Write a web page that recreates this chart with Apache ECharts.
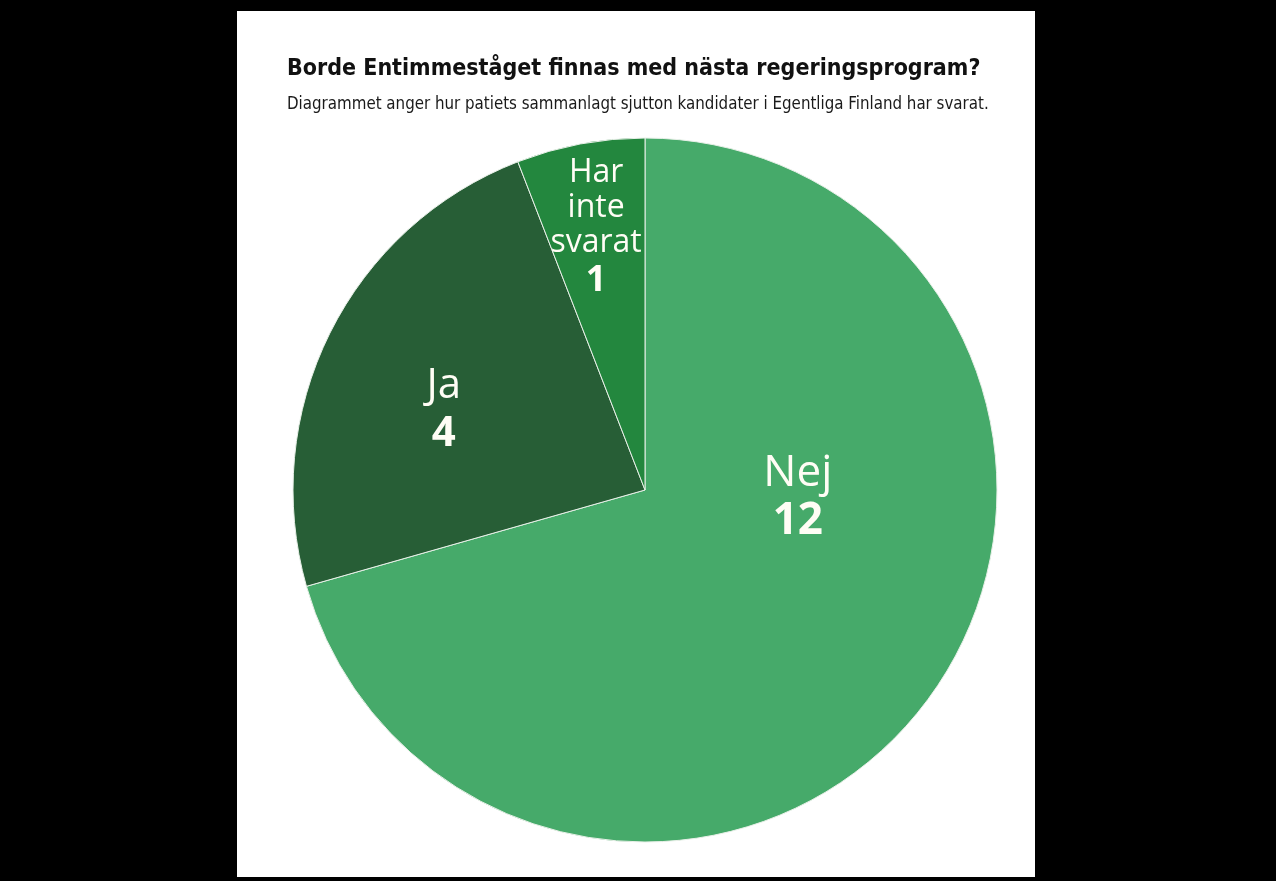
<!DOCTYPE html>
<html>
<head>
<meta charset="utf-8">
<script src="https://cdn.jsdelivr.net/npm/echarts@6/dist/echarts.min.js"></script>
<style>
  html, body { margin: 0; padding: 0; background: #000; }
  #chart { width: 1276px; height: 881px; }
</style>
</head>
<body>
<div id="chart"></div>
<script>
// svar från kandidaterna
const categories = ['Nej', 'Ja', 'Har\ninte\nsvarat'];
const values = [12, 4, 1];
const colors = ['#46aa6a', '#275e36', '#23873e'];
// label tweaks relative to the inside position
const labelShift = [[10, -100], [-41, 0], [-16, -86]];
const nameSize = [44, 42, 32];

const chart = echarts.init(document.getElementById('chart'));

const option = {
    backgroundColor: '#000',
    graphic: [
        { type: 'rect', z: -10, shape: { x: 237, y: 11, width: 798, height: 866 }, style: { fill: '#fff' } }
    ],
    title: {
        text: 'Borde Entimmeståget finnas med nästa regeringsprogram?',
        subtext: 'Diagrammet anger hur patiets sammanlagt sjutton kandidater i Egentliga Finland har svarat.',
        left: 282, top: 53, itemGap: 15,
        textStyle: { fontFamily: '"DejaVu Sans Condensed", sans-serif', fontWeight: 'bold', fontSize: 23, color: '#111' },
        subtextStyle: { fontFamily: '"DejaVu Sans Condensed", sans-serif', fontSize: 16.75, color: '#1a1a1a' }
    },
    series: [{
        type: 'pie',
        center: [645, 490], radius: [0, 352],
        startAngle: 90, clockwise: true,
        silent: true,
        itemStyle: { borderColor: '#e8f0e8', borderWidth: 1 },
        label: {
            show: true, position: 'inside',
            formatter: p => '{n|' + p.name + '}\n{v|' + p.value + '}'
        },
        labelLine: { show: false },
        labelLayout: p => ({ dx: labelShift[p.dataIndex][0], dy: labelShift[p.dataIndex][1] }),
        data: categories.map((c, i) => ({
            name: c, value: values[i],
            itemStyle: { color: colors[i] },
            label: {
                rich: {
                    n: { fontFamily: 'Open Sans', fontSize: nameSize[i], lineHeight: i == 2 ? 35 : 48, color: '#fffdf5', align: 'center' },
                    v: { fontFamily: 'Open Sans', fontWeight: 'bold', fontSize: nameSize[i] + (i == 2 ? 4 : 0), lineHeight: i == 2 ? 40 : 48, color: '#fffdf5', align: 'center' }
                }
            }
        }))
    }]
};
chart.setOption(option);
</script>
</body>
</html>
